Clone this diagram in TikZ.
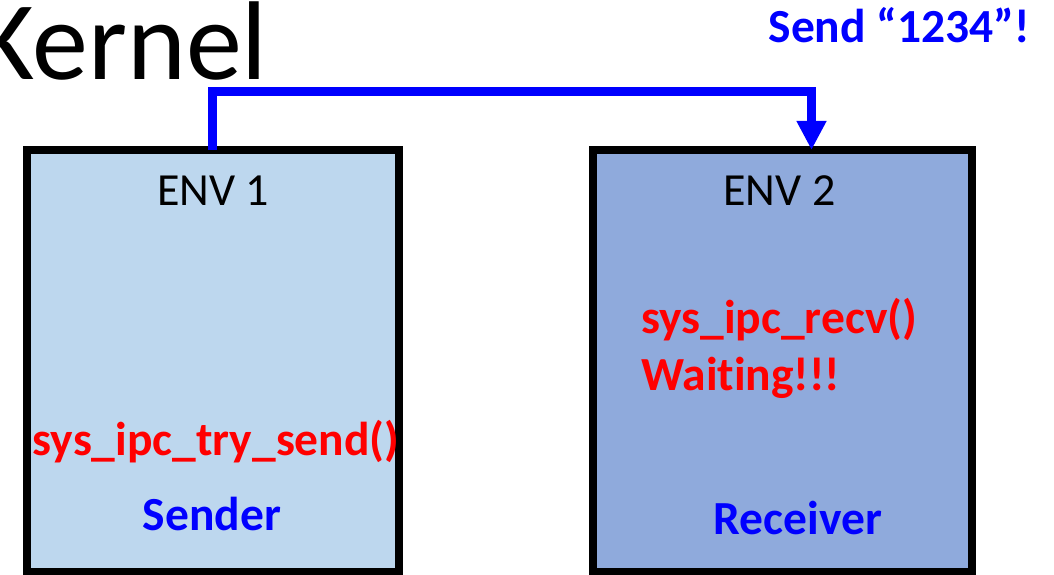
\documentclass[tikz,border=0pt]{standalone}
\usepackage{fontspec}
\setmainfont{Carlito}[RawFeature=-liga]
\usetikzlibrary{arrows.meta}
\definecolor{envA}{HTML}{BDD7EE}
\definecolor{envB}{HTML}{8FAADC}
\definecolor{pureblue}{HTML}{0000FF}
\definecolor{purered}{HTML}{FF0000}
\tikzset{
  envbox/.style={draw=black, line width=8pt, outer sep=0pt, inner sep=0pt,
    minimum height=422pt},
  label/.style={anchor=base, inner sep=0pt, font=\fontsize{46}{50}\selectfont},
  callred/.style={label, text=purered, font=\fontsize{47.5}{52}\selectfont\bfseries},
  roleblue/.style={label, text=pureblue, font=\fontsize{47.5}{52}\selectfont\bfseries},
  msgarrow/.style={draw=pureblue, line width=9pt,
    -{Triangle[width=28pt,length=29pt]}}
}
\begin{document}
\begin{tikzpicture}[x=1pt, y=-1pt]
  \useasboundingbox (0,0) rectangle (1054,575);

  % title
  \node[anchor=base west, inner sep=0pt, font=\fontsize{112}{120}\selectfont]
    (title) at (-24,80) {Kernel};

  % environments
  \node[envbox, fill=envA, minimum width=372pt] (env1) at (213,361) {};
  \node[envbox, fill=envB, minimum width=379pt] (env2) at (782.5,361) {};

  \node[label] (env1name) at (213,205) {ENV 1};
  \node[label] (env2name) at (779.5,205) {ENV 2};

  \node[callred] (send) at (216,455) {sys\_ipc\_try\_send()};
  \node[roleblue] (sender) at (212,530) {Sender};

  \node[callred, anchor=base west] (recv) at (641,333) {sys\_ipc\_recv()};
  \node[callred, anchor=base west] (wait) at (641,390) {Waiting!!!};
  \node[roleblue] (receiver) at (798,534) {Receiver};

  % message path
  \coordinate (src) at ([xshift=-1pt]env1.north);
  \coordinate (dst) at ([xshift=29pt]env2.north);
  \coordinate (route) at (0,92);
  \draw[msgarrow] (src) -- (src |- route) -| (dst);

  \node[roleblue, anchor=base east] (msg) at (1030,43) {Send “1234”!};
\end{tikzpicture}
\end{document}
